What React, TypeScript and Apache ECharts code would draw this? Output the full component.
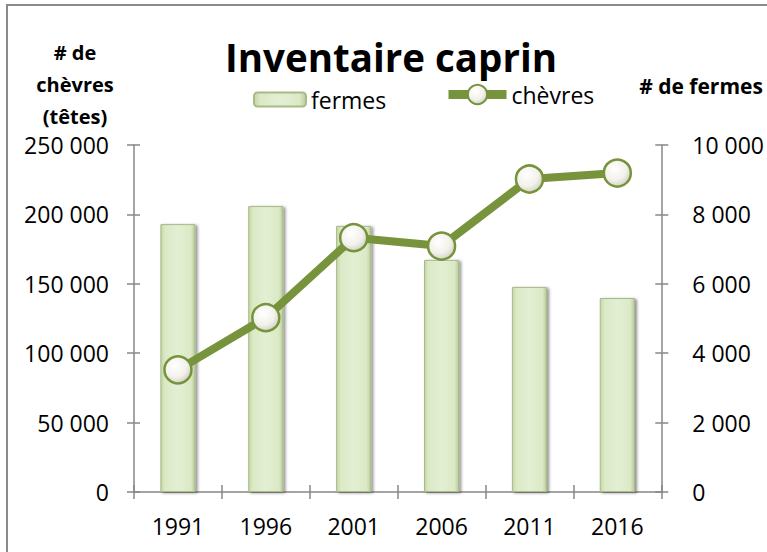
import React, { useEffect, useRef } from "react";
import * as echarts from "echarts";

const years = ["1991", "1996", "2001", "2006", "2011", "2016"];
const fermes = [7720, 8240, 7670, 6690, 5910, 5590];
const chevres = [88000, 125600, 183200, 177200, 225500, 229800];

const FONT = "'Open Sans', 'Noto Sans', sans-serif";
const AXIS_COLOR = "#878787";
const GREEN = "#77933c";

const fmt = (v: number) => String(v).replace(/\B(?=(\d{3})+(?!\d))/g, " ");

export default function App() {
  const ref = useRef<HTMLDivElement>(null);
  useEffect(() => {
    if (!ref.current) return;
    const chart = echarts.init(ref.current, null, { renderer: "svg" });
    const barFill = new echarts.graphic.LinearGradient(0, 0, 1, 0, [
      { offset: 0, color: "#c4d6a6" },
      { offset: 0.12, color: "#dbe9c6" },
      { offset: 0.5, color: "#e3efd3" },
      { offset: 0.88, color: "#dbe9c6" },
      { offset: 1, color: "#b9cc98" },
    ]);
    const markerFill = new echarts.graphic.RadialGradient(0.4, 0.35, 0.7, [
      { offset: 0, color: "#ffffff" },
      { offset: 0.6, color: "#f2f1ea" },
      { offset: 1, color: "#cfcec2" },
    ]);
    const axisLineStyle = { lineStyle: { color: AXIS_COLOR, width: 1.5 } };
    const tickFont = { fontFamily: FONT, fontSize: 23, color: "#000" };
    chart.setOption({
      animation: false,
      backgroundColor: "#ffffff",
      grid: { left: 134, right: 104, top: 145, bottom: 60, containLabel: false },
      legend: [
        {
          data: ["fermes"],
          left: 253,
          top: 88,
          padding: 0,
          itemWidth: 52,
          itemHeight: 14,
          textStyle: { fontFamily: FONT, fontSize: 23, color: "#000" },
        },
        {
          data: ["chèvres"],
          left: 444,
          top: 83,
          padding: 0,
          itemWidth: 58,
          itemHeight: 24,
          lineStyle: { width: 9, color: GREEN },
          textStyle: { fontFamily: FONT, fontSize: 23, color: "#000" },
        },
      ],
      xAxis: [
        {
          type: "category",
          data: years,
          boundaryGap: true,
          axisLine: { show: true, ...axisLineStyle },
          axisTick: { show: true, alignWithLabel: false, length: 7, ...axisLineStyle },
          axisLabel: { ...tickFont, margin: 22 },
        },
        {
          type: "category",
          data: years,
          position: "bottom",
          offset: 0,
          boundaryGap: true,
          axisLine: { show: false },
          axisTick: { show: true, inside: true, length: 7, ...axisLineStyle },
          axisLabel: { show: false },
        },
      ],
      yAxis: [
        {
          type: "value",
          position: "left",
          min: 0,
          max: 250000,
          interval: 50000,
          splitLine: { show: false },
          axisLine: { show: true, ...axisLineStyle },
          axisTick: { show: true, length: 7, ...axisLineStyle },
          axisLabel: { ...tickFont, margin: 25, formatter: (v: number) => fmt(v) },
        },
        {
          type: "value",
          position: "right",
          min: 0,
          max: 10000,
          interval: 2000,
          splitLine: { show: false },
          axisLine: { show: true, ...axisLineStyle },
          axisTick: { show: true, length: 7, ...axisLineStyle },
          axisLabel: { ...tickFont, margin: 31, formatter: (v: number) => fmt(v) },
        },
        {
          type: "value",
          position: "left",
          offset: 0,
          min: 0,
          max: 250000,
          interval: 50000,
          splitLine: { show: false },
          axisLine: { show: false },
          axisTick: { show: true, inside: true, length: 6, ...axisLineStyle },
          axisLabel: { show: false },
        },
        {
          type: "value",
          position: "right",
          offset: 0,
          min: 0,
          max: 10000,
          interval: 2000,
          splitLine: { show: false },
          axisLine: { show: false },
          axisTick: { show: true, inside: true, length: 6, ...axisLineStyle },
          axisLabel: { show: false },
        },
      ],
      series: [
        {
          name: "fermes",
          type: "bar",
          xAxisIndex: 0,
          yAxisIndex: 1,
          data: fermes,
          barWidth: "40%",
          itemStyle: {
            color: barFill,
            borderColor: "#a8ba88",
            borderWidth: 1,
            shadowColor: "rgba(0,0,0,0.45)",
            shadowBlur: 3,
            shadowOffsetX: 2,
            shadowOffsetY: 1,
          },
          z: 2,
        },
        {
          name: "chèvres",
          type: "line",
          xAxisIndex: 0,
          yAxisIndex: 0,
          data: chevres,
          symbol: "circle",
          symbolSize: 27,
          lineStyle: { color: GREEN, width: 8 },
          itemStyle: {
            color: markerFill,
            borderColor: GREEN,
            borderWidth: 2.5,
          },
          z: 5,
        },
      ],
      graphic: [
        {
          type: "rect",
          z: -10,
          shape: { x: 7, y: 5, width: 820, height: 620 },
          style: { fill: "none", stroke: "#8a8a8a", lineWidth: 2 },
        },
        {
          type: "text",
          x: 391,
          y: 57,
          style: {
            text: "Inventaire caprin",
            fontFamily: FONT,
            fontSize: 38.5,
            fontWeight: "bold",
            fill: "#000",
            align: "center",
            verticalAlign: "middle",
          },
        },
        {
          type: "text",
          x: 75,
          y: 84,
          style: {
            text: "# de\nchèvres\n(têtes)",
            fontFamily: FONT,
            fontSize: 20,
            lineHeight: 32,
            fontWeight: "bold",
            fill: "#000",
            align: "center",
            verticalAlign: "middle",
          },
        },
        {
          type: "text",
          x: 701,
          y: 86,
          style: {
            text: "# de fermes",
            fontFamily: FONT,
            fontSize: 21,
            fontWeight: "bold",
            fill: "#000",
            align: "center",
            verticalAlign: "middle",
          },
        },
      ],
    });
    return () => chart.dispose();
  }, []);
  return (
    <div
      ref={ref}
      style={{ position: "absolute", left: 0, top: 0, width: 767, height: 552 }}
    />
  );
}
